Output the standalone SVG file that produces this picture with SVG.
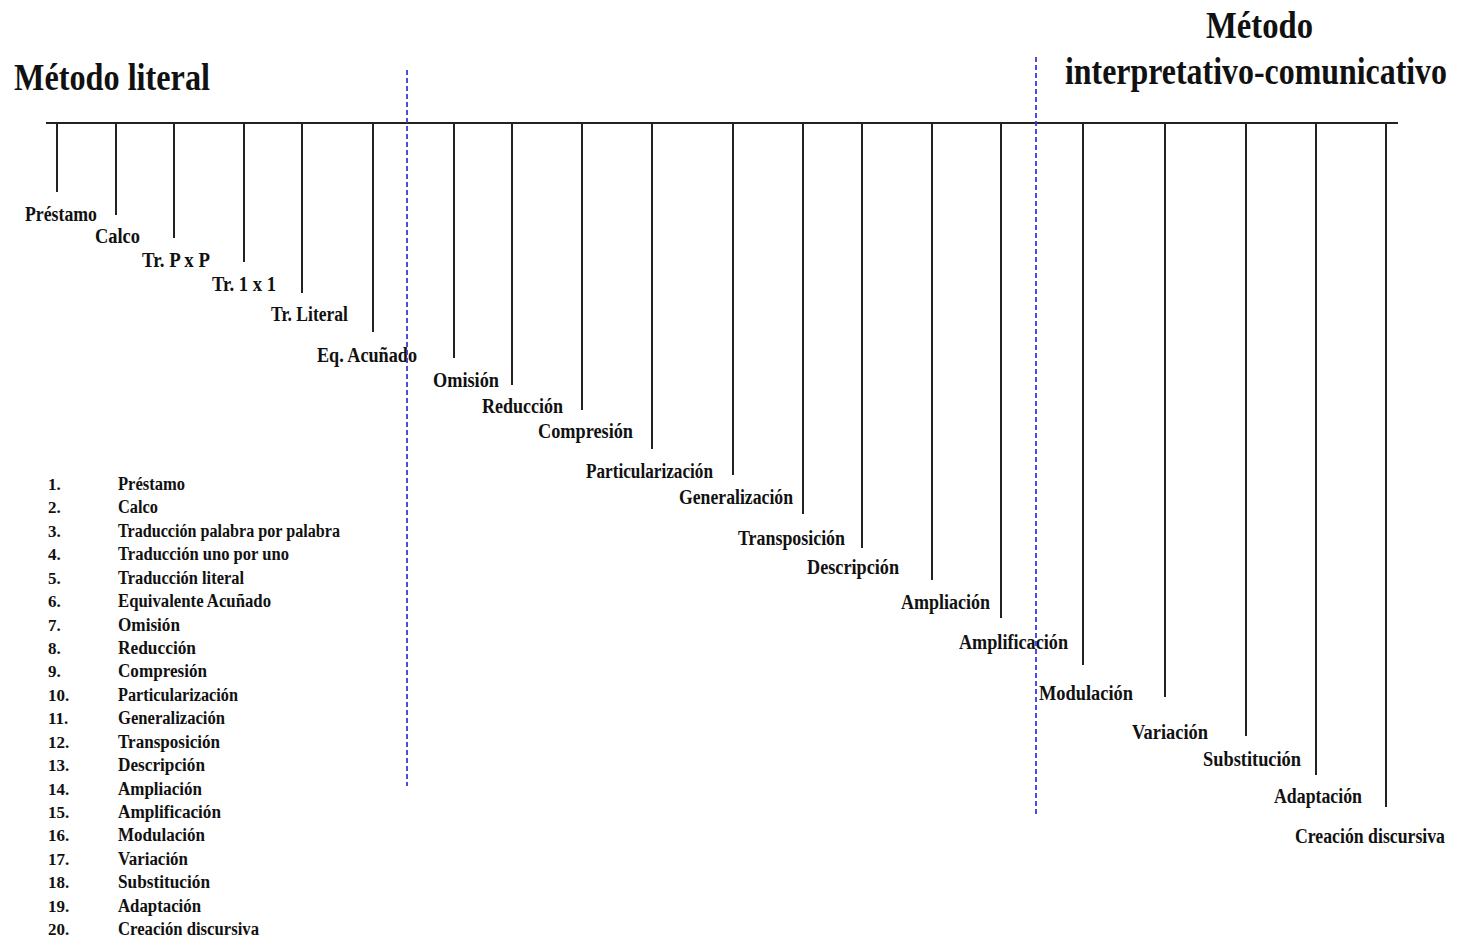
<svg xmlns="http://www.w3.org/2000/svg" width="1459" height="940" viewBox="0 0 1459 940">
<style>
text{font-family:"Liberation Serif","Times New Roman",serif;font-weight:bold;fill:#111}
.title{font-size:38px}
.lbl{font-size:20px}
.li{font-size:18px}
.num{font-size:17px}
.tick{stroke:#222;stroke-width:2;fill:none}
.axis{stroke:#222;stroke-width:2.2;fill:none}
.sep{stroke:#3a3ad6;stroke-width:1.8;stroke-dasharray:5,3;fill:none}
</style>
<rect width="1459" height="940" fill="#fff"/>
<g id="titles">
<text class="title" x="14" y="90" textLength="196" lengthAdjust="spacingAndGlyphs">Método literal</text>
<text class="title" x="1206" y="38" textLength="107" lengthAdjust="spacingAndGlyphs">Método</text>
<text class="title" style="font-size:32px" transform="translate(1065,84) scale(1,1.19)" x="0" y="0" textLength="382" lengthAdjust="spacingAndGlyphs">interpretativo-comunicativo</text>
</g>
<g id="connectors">
<line class="axis" x1="46" y1="123" x2="1398" y2="123"/>
</g>
<g id="n1"><line class="tick" x1="57" y1="123" x2="57" y2="192"/><text class="lbl" x="25" y="221" textLength="72" lengthAdjust="spacingAndGlyphs">Préstamo</text></g>
<g id="n2"><line class="tick" x1="116" y1="123" x2="116" y2="215"/><text class="lbl" x="95" y="243" textLength="45" lengthAdjust="spacingAndGlyphs">Calco</text></g>
<g id="n3"><line class="tick" x1="174" y1="123" x2="174" y2="238"/><text class="lbl" x="142" y="267" textLength="68" lengthAdjust="spacingAndGlyphs">Tr. P x P</text></g>
<g id="n4"><line class="tick" x1="244" y1="123" x2="244" y2="262"/><text class="lbl" x="212" y="291" textLength="64" lengthAdjust="spacingAndGlyphs">Tr. 1 x 1</text></g>
<g id="n5"><line class="tick" x1="302" y1="123" x2="302" y2="293"/><text class="lbl" x="271" y="321" textLength="77" lengthAdjust="spacingAndGlyphs">Tr. Literal</text></g>
<g id="n6"><line class="tick" x1="373" y1="123" x2="373" y2="332"/><text class="lbl" x="317" y="362" textLength="100" lengthAdjust="spacingAndGlyphs">Eq. Acuñado</text></g>
<g id="n7"><line class="tick" x1="454" y1="123" x2="454" y2="358"/><text class="lbl" x="433" y="387" textLength="66" lengthAdjust="spacingAndGlyphs">Omisión</text></g>
<g id="n8"><line class="tick" x1="512" y1="123" x2="512" y2="385"/><text class="lbl" x="482" y="413" textLength="81" lengthAdjust="spacingAndGlyphs">Reducción</text></g>
<g id="n9"><line class="tick" x1="582" y1="123" x2="582" y2="410"/><text class="lbl" x="538" y="438" textLength="95" lengthAdjust="spacingAndGlyphs">Compresión</text></g>
<g id="n10"><line class="tick" x1="652" y1="123" x2="652" y2="449"/><text class="lbl" x="586" y="478" textLength="127" lengthAdjust="spacingAndGlyphs">Particularización</text></g>
<g id="n11"><line class="tick" x1="733" y1="123" x2="733" y2="475"/><text class="lbl" x="679" y="504" textLength="114" lengthAdjust="spacingAndGlyphs">Generalización</text></g>
<g id="n12"><line class="tick" x1="803" y1="123" x2="803" y2="514"/><text class="lbl" x="738" y="545" textLength="107" lengthAdjust="spacingAndGlyphs">Transposición</text></g>
<g id="n13"><line class="tick" x1="862" y1="123" x2="862" y2="548"/><text class="lbl" x="807" y="574" textLength="92" lengthAdjust="spacingAndGlyphs">Descripción</text></g>
<g id="n14"><line class="tick" x1="932" y1="123" x2="932" y2="580"/><text class="lbl" x="901" y="609" textLength="89" lengthAdjust="spacingAndGlyphs">Ampliación</text></g>
<g id="n15"><line class="tick" x1="1001" y1="123" x2="1001" y2="618"/><text class="lbl" x="959" y="649" textLength="109" lengthAdjust="spacingAndGlyphs">Amplificación</text></g>
<g id="n16"><line class="tick" x1="1083" y1="123" x2="1083" y2="665"/><text class="lbl" x="1039" y="700" textLength="94" lengthAdjust="spacingAndGlyphs">Modulación</text></g>
<g id="n17"><line class="tick" x1="1165" y1="123" x2="1165" y2="697"/><text class="lbl" x="1132" y="739" textLength="76" lengthAdjust="spacingAndGlyphs">Variación</text></g>
<g id="n18"><line class="tick" x1="1246" y1="123" x2="1246" y2="736"/><text class="lbl" x="1203" y="766" textLength="98" lengthAdjust="spacingAndGlyphs">Substitución</text></g>
<g id="n19"><line class="tick" x1="1316" y1="123" x2="1316" y2="775"/><text class="lbl" x="1274" y="803" textLength="88" lengthAdjust="spacingAndGlyphs">Adaptación</text></g>
<g id="n20"><line class="tick" x1="1386" y1="123" x2="1386" y2="807"/><text class="lbl" style="font-size:18px" transform="translate(1295,843) scale(1,1.11)" x="0" y="0" textLength="150" lengthAdjust="spacingAndGlyphs">Creación discursiva</text></g>
<g id="separators">
<line class="sep" x1="407" y1="70" x2="407" y2="786"/>
<line class="sep" x1="1036" y1="57" x2="1036" y2="815"/>
</g>
<g id="legend">
<text class="num" x="48" y="490">1.</text><text class="li" x="118" y="490" textLength="67" lengthAdjust="spacingAndGlyphs">Préstamo</text>
<text class="num" x="48" y="513.4">2.</text><text class="li" x="118" y="513.4" textLength="40" lengthAdjust="spacingAndGlyphs">Calco</text>
<text class="num" x="48" y="536.8">3.</text><text class="li" x="118" y="536.8" textLength="222" lengthAdjust="spacingAndGlyphs">Traducción palabra por palabra</text>
<text class="num" x="48" y="560.3">4.</text><text class="li" x="118" y="560.3" textLength="171" lengthAdjust="spacingAndGlyphs">Traducción uno por uno</text>
<text class="num" x="48" y="583.7">5.</text><text class="li" x="118" y="583.7" textLength="126" lengthAdjust="spacingAndGlyphs">Traducción literal</text>
<text class="num" x="48" y="607.1">6.</text><text class="li" x="118" y="607.1" textLength="153" lengthAdjust="spacingAndGlyphs">Equivalente Acuñado</text>
<text class="num" x="48" y="630.5">7.</text><text class="li" x="118" y="630.5" textLength="62" lengthAdjust="spacingAndGlyphs">Omisión</text>
<text class="num" x="48" y="653.9">8.</text><text class="li" x="118" y="653.9" textLength="78" lengthAdjust="spacingAndGlyphs">Reducción</text>
<text class="num" x="48" y="677.4">9.</text><text class="li" x="118" y="677.4" textLength="89" lengthAdjust="spacingAndGlyphs">Compresión</text>
<text class="num" x="48" y="700.8">10.</text><text class="li" x="118" y="700.8" textLength="120" lengthAdjust="spacingAndGlyphs">Particularización</text>
<text class="num" x="48" y="724.2">11.</text><text class="li" x="118" y="724.2" textLength="107" lengthAdjust="spacingAndGlyphs">Generalización</text>
<text class="num" x="48" y="747.6">12.</text><text class="li" x="118" y="747.6" textLength="102" lengthAdjust="spacingAndGlyphs">Transposición</text>
<text class="num" x="48" y="771.1">13.</text><text class="li" x="118" y="771.1" textLength="87" lengthAdjust="spacingAndGlyphs">Descripción</text>
<text class="num" x="48" y="794.5">14.</text><text class="li" x="118" y="794.5" textLength="84" lengthAdjust="spacingAndGlyphs">Ampliación</text>
<text class="num" x="48" y="817.9">15.</text><text class="li" x="118" y="817.9" textLength="103" lengthAdjust="spacingAndGlyphs">Amplificación</text>
<text class="num" x="48" y="841.3">16.</text><text class="li" x="118" y="841.3" textLength="87" lengthAdjust="spacingAndGlyphs">Modulación</text>
<text class="num" x="48" y="864.7">17.</text><text class="li" x="118" y="864.7" textLength="70" lengthAdjust="spacingAndGlyphs">Variación</text>
<text class="num" x="48" y="888.2">18.</text><text class="li" x="118" y="888.2" textLength="92" lengthAdjust="spacingAndGlyphs">Substitución</text>
<text class="num" x="48" y="911.6">19.</text><text class="li" x="118" y="911.6" textLength="83" lengthAdjust="spacingAndGlyphs">Adaptación</text>
<text class="num" x="48" y="935">20.</text><text class="li" x="118" y="935" textLength="141" lengthAdjust="spacingAndGlyphs">Creación discursiva</text>
</g>
</svg>
